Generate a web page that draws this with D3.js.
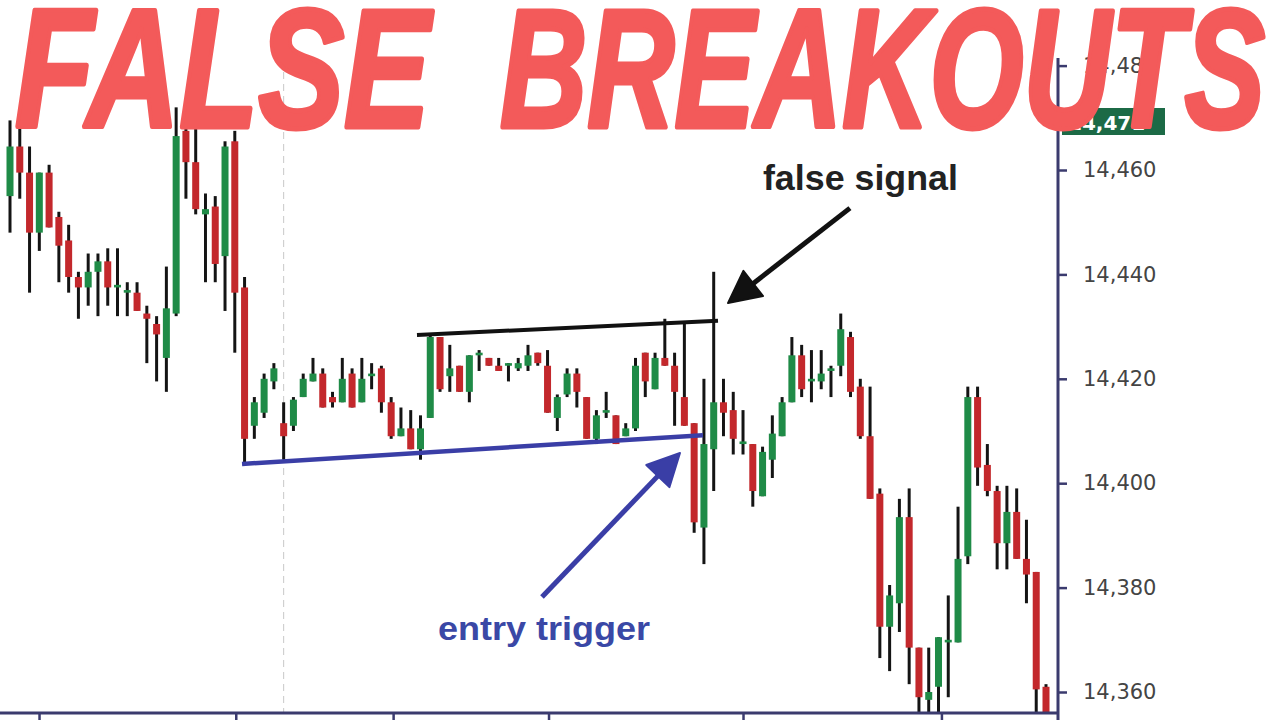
<!DOCTYPE html>
<html><head><meta charset="utf-8">
<script src="https://cdn.jsdelivr.net/npm/d3@7"></script>
<style>html,body{margin:0;padding:0;background:#fff;overflow:hidden}</style>
</head><body><svg id="c" width="1280" height="720"></svg>
<script>
// ---- data (OHLC, one entry per candle) ----
const opens  = [14455,14464.5,14459.5,14448,14459.5,14451,14446.5,14439.5,14437.5,14440.5,14442.5,14437.5,14436.5,14436.5,14432.5,14430.5,14424,14432.5,14467.5,14461.5,14451.5,14453,14443.5,14465.5,14437.5,14411,14413.5,14419.5,14411.5,14411,14416.5,14419.5,14421,14416.5,14415.5,14421,14415.5,14420.5,14422,14415.5,14409,14410.5,14406.5,14412.5,14428,14420.5,14422.5,14417.5,14424.5,14424,14422.5,14422.5,14422,14422.5,14425,14422.5,14412.5,14417,14421,14416.5,14408.5,14413.5,14413,14409,14410.5,14425,14418,14424,14422.5,14416.5,14411.5,14391.5,14406.5,14415.5,14414,14407.5,14407.5,14397.5,14404.5,14409,14415.5,14424.5,14419.5,14419.5,14421.5,14422.5,14428,14418.5,14409,14398,14372.5,14377,14393.5,14368.5,14358.5,14361,14369.5,14369.5,14386,14416.5,14403.5,14398.5,14388.5,14394.5,14385.5,14383,14361];
const highs  = [14469.5,14469,14464.5,14459.5,14461,14452,14449.5,14440.5,14444,14444,14445,14445,14438.5,14438.5,14434,14432,14441.5,14472,14468.5,14468.5,14455.5,14455,14465.5,14467.5,14439.5,14416.5,14421,14423,14415.5,14416.5,14421,14424,14422,14417.5,14424,14422,14424,14423,14422.5,14416.5,14414.5,14414,14413,14428.5,14428,14426.5,14422.5,14424.5,14425.5,14424,14424,14423,14424,14426.5,14425,14425.5,14417,14422,14422,14416.5,14414,14417.5,14413,14411.5,14424,14425,14425,14431.5,14425,14431,14411.5,14420,14440.5,14420,14417.5,14414,14407.5,14407,14413,14416.5,14428,14426.5,14425.5,14425.5,14422.5,14432.5,14429,14420,14418.5,14399,14380.5,14397,14399,14368.5,14368.5,14370.5,14378.5,14395.5,14418.5,14418.5,14407.5,14399.5,14399.5,14399,14393,14383,14361.5];
const lows   = [14448,14454.5,14436.5,14444.5,14449,14438.5,14436.5,14431.5,14434,14432,14434,14432,14432,14433,14423,14419.5,14417.5,14432,14454.5,14451.5,14438.5,14438.5,14433,14425,14403.5,14408.5,14412.5,14418,14404.5,14410,14416.5,14419.5,14414.5,14414.5,14415.5,14414.5,14415.5,14418,14413.5,14408.5,14409,14406.5,14404.5,14412.5,14417.5,14417.5,14417.5,14415.5,14421.5,14422.5,14421.5,14419.5,14421.5,14421.5,14422.5,14413.5,14410,14416.5,14414.5,14408.5,14407.5,14412.5,14407.5,14409,14410,14416.5,14418,14422.5,14411,14411,14390.5,14384.5,14398.5,14409,14405.5,14405.5,14395.5,14397.5,14401,14409,14415.5,14416.5,14415.5,14418,14416.5,14420.5,14416.5,14408.5,14397,14366.5,14364,14371.5,14361.5,14356,14356,14356,14359,14369.5,14384.5,14399.5,14397.5,14383.5,14383.5,14385.5,14377,14356,14356];
const closes = [14464.5,14459.5,14448,14459.5,14449,14445.5,14439.5,14437.5,14440.5,14442.5,14437.5,14438,14437,14433,14431.5,14428.5,14433.5,14466.5,14461.5,14452.5,14452.5,14442,14464.5,14436.5,14408.5,14415.5,14420,14422,14409,14416,14420,14421,14414.5,14415.5,14420,14414.5,14420,14421,14415.5,14409,14410.5,14406.5,14410.5,14428,14418,14422,14417.5,14424.5,14425,14422.5,14421.5,14423,14423,14424.5,14423,14413.5,14416.5,14421,14417.5,14408.5,14413,14414,14407.5,14410.5,14422.5,14419.5,14424,14422.5,14417.5,14411,14392.5,14407.5,14415.5,14413.5,14408.5,14408,14398.5,14406,14409.5,14415.5,14424.5,14418,14420,14421,14422,14429.5,14417.5,14409,14397,14372.5,14378.5,14393.5,14368.5,14359,14360,14370.5,14370,14385.5,14416.5,14403,14398.5,14388.5,14394.5,14385.5,14382.5,14360.5,14356];
const yTicks = [14360,14380,14400,14420,14440,14460,14480];
const xTickIdx = [2.97,23.1,39.2,55.1,75,95.3];
const dashedIdx = 28;
const supportLine = [[23.74,14403.7],[70.9,14409.2]];
const resistanceLine = [[41.64,14428.4],[72.44,14431.1]];
const falseArrow = [[85.94,14452.7],[73.46,14434.5]];
const entryArrow = [[54.43,14378.2],[68.55,14405.8]];
const falseLabel = {text:"false signal", at:[77.04,14456.2]};
const entryLabel = {text:"entry trigger", at:[43.79,14370]};
const priceTag = "14,471";
const titleWords = ["FALSE","BREAKOUTS"];

// ---- drawing ----
const svg = d3.select("#c");
const W=1280,H=720;
const axisX=1058, axisY=713;
const navy="#3b3b6e", green="#1f8b47", red="#c3282c";
const x = d3.scaleLinear().domain([0,opens.length-1]).range([10,1046]);
const y = d3.scaleLinear().domain([14360,14460]).range([692,170]);
const data = opens.map((o,i)=>({i,o,h:highs[i],l:lows[i],c:closes[i]}));

svg.append("rect").attr("width",W).attr("height",H).attr("fill","#fff");
svg.append("defs").append("clipPath").attr("id","plot")
  .append("rect").attr("x",0).attr("y",0).attr("width",axisX-2).attr("height",axisY-1);

// dashed vertical
svg.append("line").attr("x1",x(dashedIdx)).attr("x2",x(dashedIdx))
  .attr("y1",60).attr("y2",axisY).attr("stroke","#c8c8c8")
  .attr("stroke-width",1).attr("stroke-dasharray","7,5");

const g = svg.append("g").attr("clip-path","url(#plot)");
const bodyW = 7;
g.selectAll("line.wick").data(data).join("line").attr("class","wick")
  .attr("x1",d=>x(d.i)).attr("x2",d=>x(d.i))
  .attr("y1",d=>y(d.h)).attr("y2",d=>y(d.l))
  .attr("stroke","#141414").attr("stroke-width",3);
g.selectAll("rect.body").data(data).join("rect").attr("class","body")
  .attr("x",d=>x(d.i)-bodyW/2).attr("width",bodyW)
  .attr("y",d=>{const t=y(Math.max(d.o,d.c)),b=y(Math.min(d.o,d.c));return b-t<2.5?(t+b)/2-1.25:t;})
  .attr("height",d=>Math.max(2.5,y(Math.min(d.o,d.c))-y(Math.max(d.o,d.c))))
  .attr("fill",d=>d.c>=d.o?green:red);

// trend lines
const pt = p=>[x(p[0]),y(p[1])];
svg.append("line").datum(resistanceLine)
  .attr("x1",d=>pt(d[0])[0]).attr("y1",d=>pt(d[0])[1])
  .attr("x2",d=>pt(d[1])[0]).attr("y2",d=>pt(d[1])[1])
  .attr("stroke","#111").attr("stroke-width",4);
svg.append("line").datum(supportLine)
  .attr("x1",d=>pt(d[0])[0]).attr("y1",d=>pt(d[0])[1])
  .attr("x2",d=>pt(d[1])[0]).attr("y2",d=>pt(d[1])[1])
  .attr("stroke","#3a3ea6").attr("stroke-width",4.5);

function arrow(a,color){
  const [x1,y1]=pt(a[0]),[x2,y2]=pt(a[1]);
  const dx=x2-x1,dy=y2-y1,L=Math.hypot(dx,dy),ux=dx/L,uy=dy/L;
  const hl=32,hw=16;
  const bx=x2-ux*hl,by=y2-uy*hl;
  svg.append("line").attr("x1",x1).attr("y1",y1).attr("x2",bx+ux*4).attr("y2",by+uy*4)
    .attr("stroke",color).attr("stroke-width",5);
  svg.append("polygon").attr("points",[[x2,y2],[bx-uy*hw,by+ux*hw],[bx+uy*hw,by-ux*hw]].map(p=>p.join(",")).join(" "))
    .attr("fill",color).attr("stroke",color).attr("stroke-width",2).attr("stroke-linejoin","round");
}
arrow(falseArrow,"#111");
arrow(entryArrow,"#3a3ea6");

svg.append("text").attr("x",x(falseLabel.at[0])).attr("y",y(falseLabel.at[1]))
  .attr("font-family","Liberation Sans, Arial, sans-serif").attr("font-weight","bold")
  .attr("font-size",35).attr("fill","#222").attr("textLength",195)
  .attr("lengthAdjust","spacingAndGlyphs").text(falseLabel.text);
svg.append("text").attr("x",x(entryLabel.at[0])).attr("y",y(entryLabel.at[1]))
  .attr("font-family","Liberation Sans, Arial, sans-serif").attr("font-weight","bold")
  .attr("font-size",33).attr("fill","#3a48a6").attr("textLength",212)
  .attr("lengthAdjust","spacingAndGlyphs").text(entryLabel.text);

// y axis
svg.append("line").attr("x1",axisX).attr("x2",axisX).attr("y1",58).attr("y2",H)
  .attr("stroke",navy).attr("stroke-width",3);
const ya = svg.append("g").attr("transform",`translate(${axisX},0)`)
  .call(d3.axisRight(y).tickValues(yTicks).tickSize(9).tickPadding(16).tickFormat(d3.format(",")));
ya.select(".domain").remove();
ya.selectAll(".tick line").attr("stroke",navy).attr("stroke-width",2.5);
ya.selectAll(".tick text").attr("font-family","DejaVu Sans, Verdana, sans-serif")
  .attr("font-size",21).attr("fill","#444");

// price tag
svg.append("rect").attr("x",axisX+4).attr("y",108).attr("width",103).attr("height",27).attr("fill","#1c6a46");
svg.append("text").attr("x",axisX+10).attr("y",130).attr("font-family","DejaVu Sans, sans-serif")
  .attr("font-weight","bold").attr("font-size",20).attr("fill","#fff").text(priceTag);

// x axis
svg.append("line").attr("x1",0).attr("x2",axisX).attr("y1",axisY).attr("y2",axisY)
  .attr("stroke",navy).attr("stroke-width",3);
const xa = svg.append("g").attr("transform",`translate(0,${axisY})`)
  .call(d3.axisBottom(x).tickValues(xTickIdx).tickSize(9).tickFormat(""));
xa.select(".domain").remove();
xa.selectAll(".tick line").attr("stroke",navy).attr("stroke-width",2.5);

// title
const tf = svg.append("g").attr("font-family","Liberation Sans Narrow, Liberation Sans, sans-serif")
  .attr("font-weight","bold").attr("font-style","italic").attr("font-size",168)
  .attr("fill","#f35a5a").attr("stroke","#f35a5a").attr("stroke-width",5).attr("stroke-linejoin","round");
tf.append("text").attr("x",15).attr("y",127).attr("textLength",415)
  .attr("lengthAdjust","spacingAndGlyphs").text(titleWords[0]);
tf.append("text").attr("x",500).attr("y",127).attr("textLength",765)
  .attr("lengthAdjust","spacingAndGlyphs").text(titleWords[1]);
</script></body></html>
